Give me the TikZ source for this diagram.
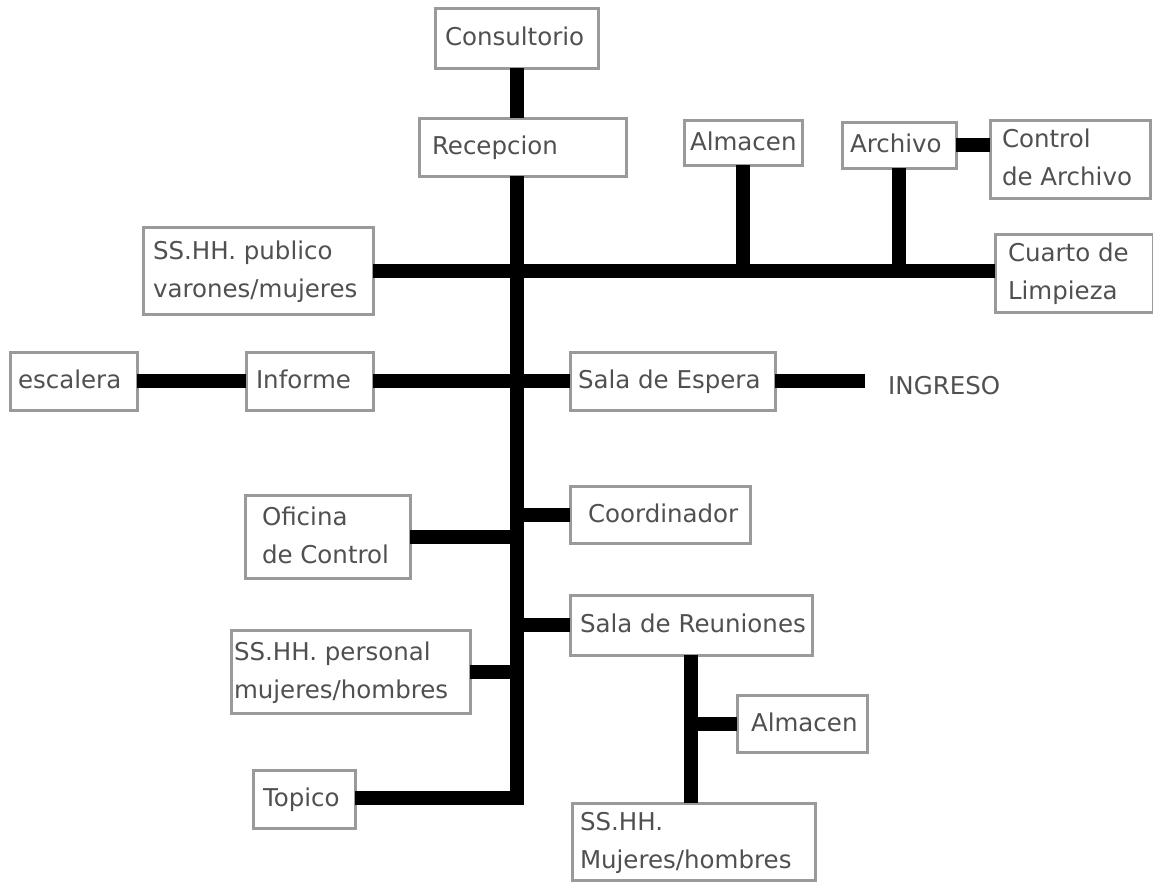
\documentclass[tikz,border=0pt]{standalone}
\usepackage{fontspec}
\setmainfont{DejaVu Sans}
\definecolor{boxgray}{HTML}{9A9A9A}
\definecolor{txtgray}{HTML}{505050}
\tikzset{
  box/.style={draw=boxgray, line width=3pt, fill=white, text=txtgray,
    font=\fontsize{24.5}{38}\selectfont, inner ysep=0pt, outer sep=0pt},
  link/.style={line width=14pt, draw=black, line join=miter},
  plain/.style={text=txtgray, font=\fontsize{24.5}{38}\selectfont, inner sep=0pt},
}
\newcommand\bx[7]{%
  \pgfmathsetmacro\bw{#4-#2}\pgfmathsetmacro\bh{#5-#3}%
  \pgfmathsetmacro\tw{#4-#2-2*#6}%
  \pgfmathsetmacro\cx{(#2+#4)/2}\pgfmathsetmacro\cy{(#3+#5)/2}%
  \node[box, minimum width=\bw pt, minimum height=\bh pt,
        inner xsep=#6pt] (#1) at (\cx,\cy)
        {\makebox[\tw pt][l]{\begin{tabular}{@{}l@{}}#7\end{tabular}}};}
\begin{document}
\begin{tikzpicture}[x=1pt,y=-1pt]
\useasboundingbox[fill=white] (0,0) rectangle (1153,881);
% boxes
\bx{cons}{435}{8}{598}{68}{10}{Consultorio}
\bx{rec}{419}{118}{626}{176}{13}{Recepcion}
\bx{almA}{684}{120}{802}{165}{6}{Almacen}
\bx{arch}{842}{122}{956}{168}{8}{Archivo}
\bx{ctrl}{990}{120}{1150}{198}{12}{Control\\de Archivo}
\bx{sspub}{143}{227}{373}{314}{10}{SS.HH. publico\\varones/mujeres}
\bx{cuarto}{995}{234}{1153}{312}{13}{Cuarto de\\Limpieza}
\bx{esc}{10}{352}{137}{410}{8}{escalera}
\bx{inf}{246}{352}{373}{410}{10}{Informe}
\bx{esp}{570}{352}{775}{410}{8}{Sala de Espera}
\bx{ofi}{245}{495}{410}{578}{17}{Oficina\\de Control}
\bx{coord}{570}{486}{750}{543}{18}{Coordinador}
\bx{reu}{570}{595}{812}{655}{10}{Sala de Reuniones}
\bx{sspers}{231}{630}{470}{713}{3}{SS.HH. personal\\mujeres/hombres}
\bx{almB}{737}{695}{867}{752}{14}{Almacen}
\bx{top}{253}{770}{355}{828}{10}{Topico}
\bx{ssm}{572}{803}{815}{880}{8}{SS.HH.\\Mujeres/hombres}
\node[plain, anchor=west] (ing) at (888,386) {INGRESO};
\coordinate (ingend) at (865,381);
\coordinate (tk) at (517,798);
% connectors
\draw[link] (cons.south) -- (cons.south |- rec.north);
\draw[link] (tk |- rec.south) -- (tk) -- (tk -| top.east);
\draw[link] (sspub.east) -- (sspub.east -| cuarto.west);
\draw[link] (almA.south) -- (almA.south |- sspub.east);
\draw[link] (arch.south) -- (arch.south |- sspub.east);
\draw[link] (arch.east) -- (arch.east -| ctrl.west);
\draw[link] (esc.east) -- (inf.west);
\draw[link] (inf.east) -- (esp.west);
\draw[link] (esp.east) -- (esp.east -| ingend);
\draw[link] (ofi.east) -- (ofi.east -| tk);
\draw[link] (coord.west -| tk) -- (coord.west);
\draw[link] (reu.west -| tk) -- (reu.west);
\draw[link] (sspers.east) -- (sspers.east -| tk);
\draw[link] (reu.south) -- (reu.south |- ssm.north);
\draw[link] (almB.west -| reu.south) -- (almB.west);
\end{tikzpicture}
\end{document}
